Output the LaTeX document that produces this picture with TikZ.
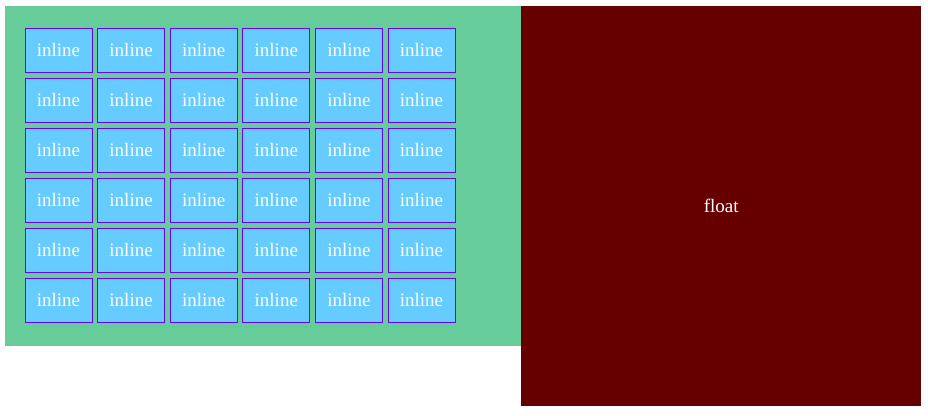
\documentclass[tikz,border=0pt]{standalone}
\usepackage{fontspec}
\setmainfont{Liberation Serif}
\definecolor{bggreen}{HTML}{66CC99}
\definecolor{floatred}{HTML}{660000}
\definecolor{cellblue}{HTML}{66CCFF}
\definecolor{cellborder}{HTML}{6600FF}
\tikzset{
  cell/.style={draw=cellborder, line width=1pt, fill=cellblue, minimum width=67pt, minimum height=44.5pt, inner sep=0pt, text=white, font=\fontsize{19}{22}\selectfont},
  container/.style={fill=bggreen, draw=none},
  floatbox/.style={fill=floatred, draw=none, text=white, font=\fontsize{19}{22}\selectfont}
}
\begin{document}
\begin{tikzpicture}[x=1pt,y=-1pt]
\useasboundingbox (0,0) rectangle (928,415);
\node[container, minimum width=516pt, minimum height=340pt, inner sep=0pt, anchor=north west] (box) at (5,6) {};
\node[floatbox, minimum width=400pt, minimum height=400pt, inner sep=0pt, anchor=north west] (float) at (521,6) {float};
\foreach \r in {0,...,5} {
  \foreach \c in {0,...,5} {
    \node[cell] (c\r\c) at ({25+33.5+\c*72.6},{28+22.35+\r*50}) {inline};
  }
}
\end{tikzpicture}
\end{document}
